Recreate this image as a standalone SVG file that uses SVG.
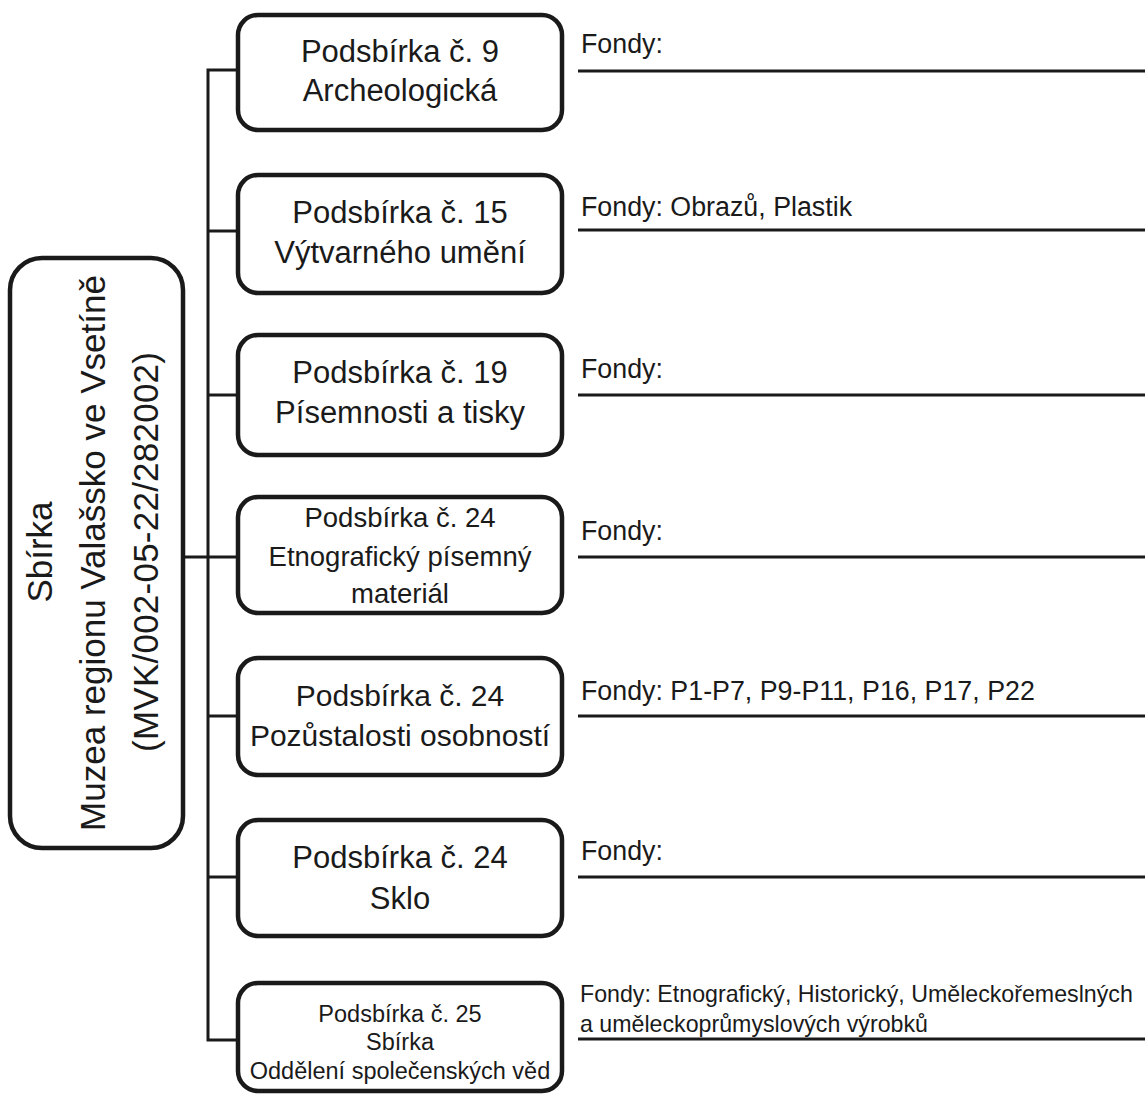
<svg xmlns="http://www.w3.org/2000/svg" width="1145" height="1095" viewBox="0 0 1145 1095">
<style>
  .box { fill: #ffffff; stroke: #1a1a1a; stroke-width: 4.5; }
  .conn { fill: none; stroke: #1a1a1a; stroke-width: 3; }
  .rule { fill: none; stroke: #1a1a1a; stroke-width: 3; }
  text { font-family: "Liberation Sans", Arial, sans-serif; fill: #1a1a1a; }
  .bt { text-anchor: middle; font-size: 31px; }
  .bt4 { text-anchor: middle; font-size: 27.5px; }
  .bt5 { text-anchor: middle; font-size: 30px; }
  .bt7 { text-anchor: middle; font-size: 23.5px; }
  .fd { font-size: 26.8px; }
  .fds { font-size: 23.2px; }
  .root { text-anchor: middle; font-size: 35px; }
</style>
<rect width="1145" height="1095" fill="#ffffff"/>

<g id="connectors">
  <path class="conn" d="M238,70 H208 V1040 H238"/>
  <line class="conn" x1="208" y1="231" x2="238" y2="231"/>
  <line class="conn" x1="208" y1="395" x2="238" y2="395"/>
  <line class="conn" x1="183" y1="557" x2="238" y2="557"/>
  <line class="conn" x1="208" y1="716" x2="238" y2="716"/>
  <line class="conn" x1="208" y1="877" x2="238" y2="877"/>
</g>

<g id="root">
  <rect class="box" x="10" y="258" width="173" height="590" rx="32" ry="32"/>
  <text class="root" transform="translate(52,552) rotate(-90)">Sbírka</text>
  <text class="root" transform="translate(105,553) rotate(-90)">Muzea regionu Valašsko ve Vsetíně</text>
  <text class="root" transform="translate(158,552) rotate(-90)" textLength="400" lengthAdjust="spacing">(MVK/002-05-22/282002)</text>
</g>

<g id="node1">
  <rect class="box" x="238" y="15" width="324" height="115" rx="20" ry="20"/>
  <text class="bt" x="400" y="62">Podsbírka č. 9</text>
  <text class="bt" x="400" y="101">Archeologická</text>
</g>
<g id="node2">
  <rect class="box" x="238" y="175" width="324" height="118" rx="20" ry="20"/>
  <text class="bt" x="400" y="223">Podsbírka č. 15</text>
  <text class="bt" x="400" y="263">Výtvarného umění</text>
</g>
<g id="node3">
  <rect class="box" x="238" y="335" width="324" height="120" rx="20" ry="20"/>
  <text class="bt" x="400" y="383">Podsbírka č. 19</text>
  <text class="bt" x="400" y="423">Písemnosti a tisky</text>
</g>
<g id="node4">
  <rect class="box" x="238" y="497" width="324" height="116" rx="20" ry="20"/>
  <text class="bt4" x="400" y="527">Podsbírka č. 24</text>
  <text class="bt4" x="400" y="566">Etnografický písemný</text>
  <text class="bt4" x="400" y="603">materiál</text>
</g>
<g id="node5">
  <rect class="box" x="238" y="658" width="324" height="117" rx="20" ry="20"/>
  <text class="bt5" x="400" y="706">Podsbírka č. 24</text>
  <text class="bt5" x="400" y="746">Pozůstalosti osobností</text>
</g>
<g id="node6">
  <rect class="box" x="238" y="820" width="324" height="116" rx="20" ry="20"/>
  <text class="bt" x="400" y="868">Podsbírka č. 24</text>
  <text class="bt" x="400" y="909">Sklo</text>
</g>
<g id="node7">
  <rect class="box" x="238" y="983" width="324" height="108" rx="20" ry="20"/>
  <text class="bt7" x="400" y="1022">Podsbírka č. 25</text>
  <text class="bt7" x="400" y="1050">Sbírka</text>
  <text class="bt7" x="400" y="1079">Oddělení společenských věd</text>
</g>

<g id="fondy">
  <text class="fd" x="581" y="53">Fondy:</text>
  <line class="rule" x1="578" y1="71" x2="1145" y2="71"/>
  <text class="fd" x="581" y="216">Fondy: Obrazů, Plastik</text>
  <line class="rule" x1="578" y1="230" x2="1145" y2="230"/>
  <text class="fd" x="581" y="378">Fondy:</text>
  <line class="rule" x1="578" y1="395" x2="1145" y2="395"/>
  <text class="fd" x="581" y="540">Fondy:</text>
  <line class="rule" x1="578" y1="557" x2="1145" y2="557"/>
  <text class="fd" x="581" y="700">Fondy: P1-P7, P9-P11, P16, P17, P22</text>
  <line class="rule" x1="578" y1="716" x2="1145" y2="716"/>
  <text class="fd" x="581" y="860">Fondy:</text>
  <line class="rule" x1="578" y1="877" x2="1145" y2="877"/>
  <text class="fds" x="580" y="1002">Fondy: Etnografický, Historický, Uměleckořemeslných</text>
  <text class="fds" x="580" y="1032">a uměleckoprůmyslových výrobků</text>
  <line class="rule" x1="578" y1="1039" x2="1145" y2="1039"/>
</g>
</svg>
